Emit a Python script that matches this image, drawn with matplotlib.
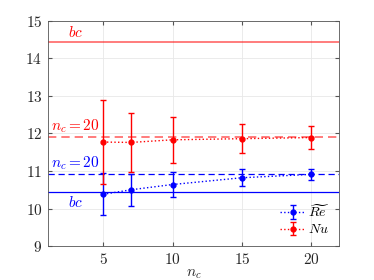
import matplotlib
matplotlib.use("Agg")
import matplotlib.pyplot as plt

plt.rcParams['mathtext.fontset'] = 'cm'
plt.rcParams['font.family'] = 'serif'
plt.rcParams['font.serif'] = ['DejaVu Serif']

nc = [5, 7, 10, 15, 20]
re_mean = [10.38, 10.50, 10.64, 10.82, 10.91]
re_err = [0.56, 0.42, 0.33, 0.22, 0.15]
nu_mean = [11.77, 11.76, 11.83, 11.86, 11.89]
nu_err = [1.12, 0.78, 0.62, 0.39, 0.30]
nu_bc = 14.43
nu_nc20 = 11.90
re_bc = 10.44
re_nc20 = 10.92
xticks = [5, 10, 15, 20]
yticks = [9, 10, 11, 12, 13, 14, 15]

fig = plt.figure(figsize=(3.74, 2.80), dpi=100)
ax = fig.add_axes([0.128, 0.121, 0.778, 0.805])

red = '#ff0000'
blue = '#0000ff'

ax.axhline(nu_bc, color=red, alpha=0.6, lw=1.2)
ax.axhline(nu_nc20, color=red, alpha=0.6, lw=1.2, ls=(0, (5, 3)))
ax.axhline(re_bc, color=blue, lw=0.9)
ax.axhline(re_nc20, color=blue, lw=0.9, ls=(0, (5, 3)))

ax.errorbar(nc, re_mean, yerr=re_err, color=blue, marker='o', ms=3.5,
            ls=':', lw=1.0, capsize=2, elinewidth=1.0, capthick=1.0,
            label=r'$\widetilde{Re}$', zorder=4)
ax.errorbar(nc, nu_mean, yerr=nu_err, color=red, marker='o', ms=3.5,
            ls=':', lw=1.0, capsize=2, elinewidth=1.0, capthick=1.0,
            label=r'$Nu$', zorder=4)

ax.text(3.0, nu_bc + 0.05, r'$bc$', color=red, fontsize=11, ha='center', va='bottom')
ax.text(2.95, nu_nc20 + 0.05, r'$n_c=20$', color=red, fontsize=11, ha='center', va='bottom')
ax.text(2.95, re_nc20 + 0.05, r'$n_c=20$', color=blue, fontsize=11, ha='center', va='bottom')
ax.text(3.0, re_bc - 0.08, r'$bc$', color=blue, fontsize=11, ha='center', va='top')

ax.set_xlim(1, 22)
ax.set_ylim(9, 15)
ax.set_xticks(xticks)
ax.set_xticklabels([f'${t}$' for t in xticks], fontsize=11)
ax.set_yticks(yticks)
ax.set_yticklabels([f'${t}$' for t in yticks], fontsize=11)
ax.tick_params(direction='in', length=3, color='#555555', right=True, top=True,
               labelcolor='#262626', pad=4)
ax.grid(True, color='#e8e8e8', lw=0.6)
ax.set_axisbelow(True)
for s in ax.spines.values():
    s.set_color('#555555')
    s.set_linewidth(0.6)
ax.set_xlabel(r'$n_c$', fontsize=11, color='#262626', labelpad=0)

leg = ax.legend(loc='lower right', fontsize=10, frameon=False, handlelength=1.8,
                handletextpad=0.2, borderaxespad=0.3, labelspacing=0.2)

fig.savefig('out.png', dpi=100)
